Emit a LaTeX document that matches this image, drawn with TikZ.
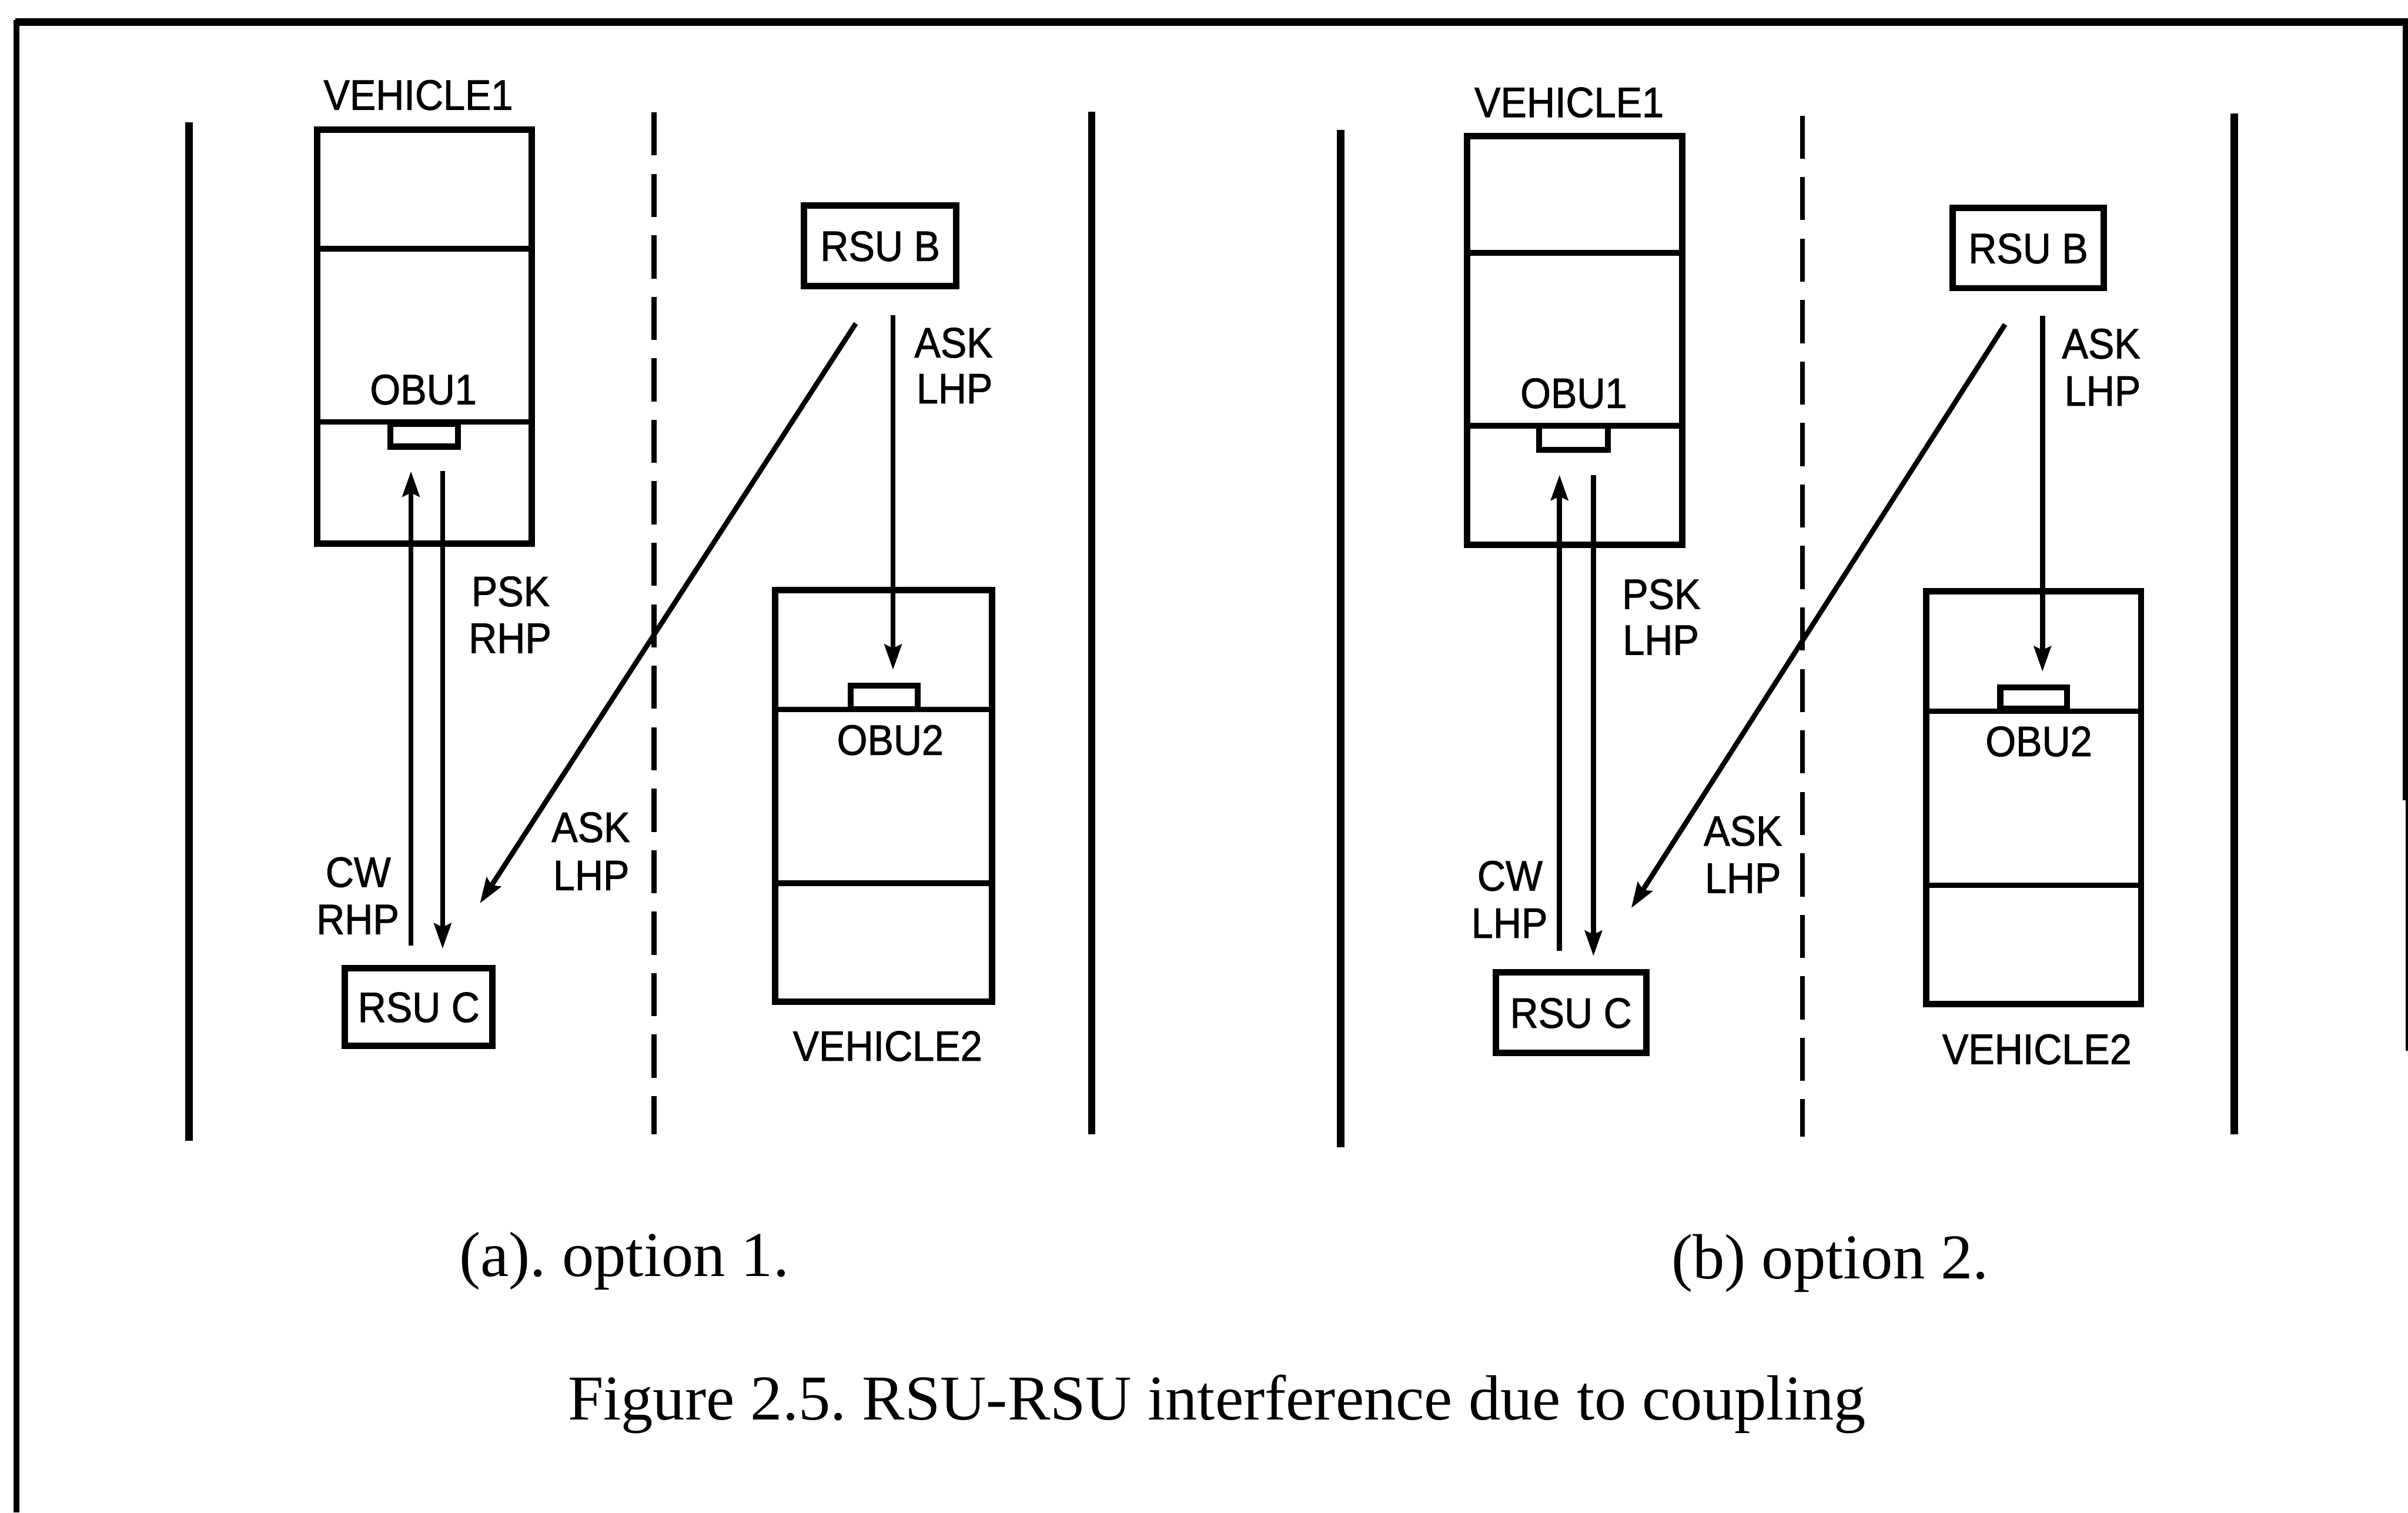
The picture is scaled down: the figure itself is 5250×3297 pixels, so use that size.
\documentclass[tikz,border=0pt]{standalone}
\usepackage{fontspec}
\setmainfont{Liberation Serif}
\newfontfamily\lblfont[FakeStretch=0.92, FakeBold=1.2]{Liberation Sans}
\usetikzlibrary{arrows.meta}

\tikzset{
  road/.style={line width=0.8mm},
  lane/.style={line width=0.55mm, dash pattern=on 4.7mm off 2mm},
  cell/.style 2 args={draw, line width=0.7mm, inner sep=0pt, outer sep=0pt,
    minimum width=#1*0.05mm, minimum height=#2*0.05mm},
  unit/.style 2 args={draw, line width=0.65mm, inner sep=0pt, outer sep=0pt,
    minimum width=#1*0.05mm, minimum height=#2*0.05mm},
  divider/.style={line width=0.6mm},
  sig/.style={line width=0.55mm, -{Stealth[length=2.75mm, width=1.85mm, inset=0.4mm]}},
  lbl/.style={font=\lblfont\fontsize{13.2pt}{15pt}\selectfont, inner sep=0pt,
    text height=9.45pt, text depth=0pt},
  capt/.style={font=\fontsize{19.8pt}{24pt}\selectfont\frenchspacing, inner sep=0pt},
}

\begin{document}
\begin{tikzpicture}[x=0.05mm, y=-0.05mm]
\useasboundingbox (0,0) rectangle (5250,3297);

% outer frame
\draw[line width=0.6mm] (36,3297) -- (36,44);
\draw[line width=0.8mm] (33,48) -- (5250,48);
\draw[line width=0.6mm] (5245,44) -- (5245,1745);
\draw[line width=0.35mm] (5248,1745) -- (5248,2290);

% road edges and lane markings
\draw[road] (412,267) -- (412,2487);
\draw[lane] (1426,245) -- (1426,2472);
\draw[road] (2380,243) -- (2380,2473);
\draw[road] (2923,283) -- (2923,2500);
\draw[lane] (3930,252) -- (3930,2477);
\draw[road] (4871,247) -- (4871,2473);

% ---------------- option 1 ----------------
\node[cell={467}{902}] (v1L) at (925.5,734) {};
\coordinate (d1L) at (0,542);
\coordinate (d2L) at (0,920);
\draw[divider] (v1L.west |- d1L) -- (v1L.east |- d1L);
\draw[divider] (v1L.west |- d2L) -- (v1L.east |- d2L);
\node[unit={147}{49}] (obu1L) at (925,949) {};

\node[cell={473}{897}] (v2L) at (1926.5,1734.5) {};
\coordinate (d3L) at (0,1546);
\coordinate (d4L) at (0,1925);
\draw[divider] (v2L.west |- d3L) -- (v2L.east |- d3L);
\draw[divider] (v2L.west |- d4L) -- (v2L.east |- d4L);
\node[unit={146}{51}] (obu2L) at (1928,1520.5) {};

\node[cell={322}{169}, lbl] (rsuCL) at (913,2194.5) {RSU C};
\node[cell={332}{175}, lbl] (rsuBL) at (1919,535.5) {RSU B};

\node[lbl] (veh1L) at (912,206) {VEHICLE1};
\node[lbl] (obu1tL) at (923,848) {OBU1};
\node[lbl] (veh2L) at (1935,2279) {VEHICLE2};
\node[lbl] (obu2tL) at (1941,1612) {OBU2};
\node[lbl] (pskL) at (1113,1288) {PSK};
\node[lbl] (pskpL) at (1112,1390) {RHP};
\node[lbl] (cwL) at (781,1900) {CW};
\node[lbl] (cwpL) at (780,2003) {RHP};
\node[lbl] (askdL) at (1288,1802) {ASK};
\node[lbl] (askdpL) at (1289,1907) {LHP};
\node[lbl] (askvL) at (2079,746) {ASK};
\node[lbl] (askvpL) at (2081,846) {LHP};

\coordinate (upL) at (896,0);
\coordinate (dnL) at (965,0);
\coordinate (vxL) at (1947,0);
\draw[sig, shorten <=2.45mm, shorten >=2.68mm] (rsuCL.north -| upL) -- (obu1L.south -| upL);
\draw[sig, shorten <=2.68mm, shorten >=2.1mm] (obu1L.south -| dnL) -- (rsuCL.north -| dnL);
\draw[sig, shorten <=4.89mm, shorten >=8.4mm] (rsuBL.south) -- ([xshift=2.1mm]rsuCL.north);
\draw[sig, shorten <=3.2mm, shorten >=1.75mm] (rsuBL.south -| vxL) -- (obu2L.north -| vxL);

% ---------------- option 2 ----------------
\node[cell={469}{891}] (v1R) at (3433.5,742.5) {};
\coordinate (d1R) at (0,551);
\coordinate (d2R) at (0,928);
\draw[divider] (v1R.west |- d1R) -- (v1R.east |- d1R);
\draw[divider] (v1R.west |- d2R) -- (v1R.east |- d2R);
\node[unit={150}{52}] (obu1R) at (3431,954) {};

\node[cell={468}{899}] (v2R) at (4434,1738.5) {};
\coordinate (d3R) at (0,1550);
\coordinate (d4R) at (0,1930);
\draw[divider] (v2R.west |- d3R) -- (v2R.east |- d3R);
\draw[divider] (v2R.west |- d4R) -- (v2R.east |- d4R);
\node[unit={145}{46}] (obu2R) at (4433.5,1521) {};

\node[cell={328}{176}, lbl] (rsuCR) at (3425,2207) {RSU C};
\node[cell={330}{175}, lbl] (rsuBR) at (4422,540.5) {RSU B};

\node[lbl] (veh1R) at (3421,222) {VEHICLE1};
\node[lbl] (obu1tR) at (3431,856) {OBU1};
\node[lbl] (veh2R) at (4441,2286) {VEHICLE2};
\node[lbl] (obu2tR) at (4445,1615) {OBU2};
\node[lbl] (pskR) at (3622,1294) {PSK};
\node[lbl] (pskpR) at (3621,1394) {LHP};
\node[lbl] (cwR) at (3292,1908) {CW};
\node[lbl] (cwpR) at (3291,2011) {LHP};
\node[lbl] (askdR) at (3800,1810) {ASK};
\node[lbl] (askdpR) at (3800,1913) {LHP};
\node[lbl] (askvR) at (4581,748) {ASK};
\node[lbl] (askvpR) at (4584,851) {LHP};

\coordinate (upR) at (3400,0);
\coordinate (dnR) at (3474,0);
\coordinate (vxR) at (4453,0);
\draw[sig, shorten <=2.35mm, shorten >=2.75mm] (rsuCR.north -| upR) -- (obu1R.south -| upR);
\draw[sig, shorten <=2.75mm, shorten >=1.75mm] (obu1R.south -| dnR) -- (rsuCR.north -| dnR);
\draw[sig, shorten <=4.69mm, shorten >=8.3mm] (rsuBR.south) -- ([xshift=2.1mm]rsuCR.north);
\draw[sig, shorten <=3mm, shorten >=1.7mm] (rsuBR.south -| vxR) -- (obu2R.north -| vxR);

% captions
\node[capt, anchor=base] (capA) at (1361,2782) {(a). option 1.};
\node[capt, anchor=base] (capB) at (3990,2787) {(b) option 2.};
\node[capt, anchor=base] (capFig) at (2653,3095) {Figure 2.5. RSU-RSU interference due to coupling};
\end{tikzpicture}
\end{document}
